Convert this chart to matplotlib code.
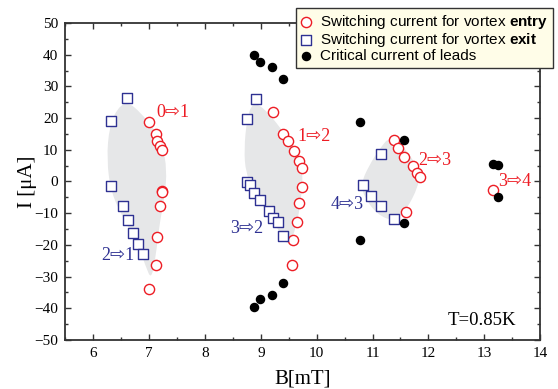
import matplotlib
matplotlib.use("Agg")
import matplotlib.pyplot as plt
import numpy as np
from matplotlib.path import Path
from matplotlib.patches import PathPatch
from matplotlib.ticker import MultipleLocator

# ---------------- data ----------------
# switching current for vortex entry (red circles)
entry_B = [7.00, 7.12, 7.15, 7.19, 7.23, 7.23, 7.24, 7.19, 7.14, 7.12, 7.00,
           9.21, 9.40, 9.49, 9.60, 9.68, 9.73, 9.73, 9.68, 9.65, 9.58, 9.56,
           11.38, 11.46, 11.57, 11.72, 11.80, 11.85, 11.60,
           13.15]
entry_I = [18.6, 14.9, 12.8, 11.2, 9.8, -3.1, -3.4, -7.7, -17.4, -26.5, -34.0,
           22.0, 15.1, 12.8, 9.6, 6.4, 4.3, -1.8, -6.8, -12.9, -18.4, -26.5,
           13.1, 10.4, 7.8, 4.8, 2.7, 1.4, -9.6,
           -2.7]

# switching current for vortex exit (blue squares)
exit_B = [6.60, 6.32, 6.32, 6.54, 6.62, 6.71, 6.80, 6.90,
          8.92, 8.76, 8.76, 8.80, 8.88, 8.98, 9.14, 9.21, 9.31, 9.39,
          11.15, 10.83, 10.97, 11.16, 11.38]
exit_I = [26.3, 19.1, -1.5, -7.8, -12.2, -16.2, -19.8, -22.9,
          25.9, 19.6, -0.2, -1.2, -3.6, -5.9, -9.4, -11.5, -12.8, -17.3,
          8.8, -1.2, -4.6, -7.8, -11.7]

# critical current of leads (black dots)
leads_B = [8.87, 8.99, 9.20, 9.39, 9.39, 9.20, 8.99, 8.87,
           10.77, 11.57, 11.57, 10.77, 13.16, 13.25, 13.25]
leads_I = [40.0, 37.6, 36.0, 32.3, -32.1, -35.8, -37.1, -39.7,
           18.8, 13.1, -13.1, -18.6, 5.6, 5.2, -5.0]

# transition labels
trans_text = ["0\u21e81", "2\u21e81", "1\u21e82", "3\u21e82", "2\u21e83", "4\u21e83", "3\u21e84"]
trans_B = [7.42, 6.44, 9.95, 8.74, 12.12, 10.54, 13.55]
trans_I = [21.7, -23.4, 14.1, -14.7, 6.7, -7.3, -0.1]
trans_kind = ["entry", "exit", "entry", "exit", "entry", "exit", "entry"]

# grey hysteresis regions (outline points)
region1_B = [6.62, 6.85, 7.09, 7.24, 7.32, 7.28, 7.18, 7.12, 7.04, 6.94, 6.79, 6.55, 6.32, 6.24, 6.29, 6.44]
region1_I = [25.1, 21.7, 16.5, 11.2, 3.8, -4.6, -14.1, -23.6, -31.0, -26.8, -19.4, -12.0, -3.6, 7.0, 17.5, 23.3]
region2_B = [8.85, 9.05, 9.35, 9.62, 9.76, 9.72, 9.64, 9.50, 9.38, 9.17, 8.88, 8.73, 8.70, 8.75]
region2_I = [24.9, 23.3, 17.0, 10.1, 2.8, -5.7, -14.1, -20.5, -17.3, -11.0, -4.1, 2.8, 10.1, 19.6]
region3_B = [11.32, 11.61, 11.85, 11.82, 11.61, 11.38, 11.08, 10.84, 10.80, 10.93, 11.14]
region3_I = [14.3, 10.1, 2.8, -1.5, -8.9, -12.6, -10.4, -4.6, -0.4, 4.8, 10.7]

RED = "#ed1c24"
BLUE = "#2e3192"
SERIF = ["Liberation Serif", "DejaVu Sans"]

plt.rcParams["font.family"] = SERIF
plt.rcParams["mathtext.fontset"] = "custom"
plt.rcParams["mathtext.rm"] = "Liberation Sans"
plt.rcParams["mathtext.bf"] = "Liberation Sans:bold"


def smooth_region(bs, cs):
    # closed quadratic bezier through midpoints of the outline points
    pts = np.column_stack([bs, cs])
    mids = (pts + np.roll(pts, -1, axis=0)) / 2
    verts = [mids[-1]]
    codes = [Path.MOVETO]
    for k in range(len(pts)):
        verts += [pts[k], mids[k]]
        codes += [Path.CURVE3, Path.CURVE3]
    return Path(verts, codes)


fig = plt.figure(figsize=(5.58, 3.89), dpi=100)
ax = fig.add_axes([0.117, 0.126, 0.851, 0.815])

for bs, cs in [(region1_B, region1_I), (region2_B, region2_I), (region3_B, region3_I)]:
    ax.add_patch(PathPatch(smooth_region(bs, cs), facecolor="#e6e7e8", edgecolor="none", zorder=1))

ax.scatter(entry_B, entry_I, s=54, facecolors="white", edgecolors=RED, linewidths=1.0,
           marker="o", zorder=3, label=r"Switching current for vortex $\bf{entry}$")
ax.scatter(exit_B, exit_I, s=46, facecolors="white", edgecolors=BLUE, linewidths=1.0,
           marker="s", zorder=3, label=r"Switching current for vortex $\bf{exit}$")
ax.scatter(leads_B, leads_I, s=34, c="black", marker="o", zorder=3,
           label="Critical current of leads")

for t, b, i, k in zip(trans_text, trans_B, trans_I, trans_kind):
    ax.text(b, i, t, color=RED if k == "entry" else BLUE, fontsize=13,
            ha="center", va="center", family=SERIF, zorder=4)

ax.text(12.96, -43.7, "T=0.85K", fontsize=13.5, ha="center", va="center")

ax.set_xlim(5.5, 14)
ax.set_ylim(-50, 50)
ax.xaxis.set_major_locator(MultipleLocator(1))
ax.xaxis.set_minor_locator(MultipleLocator(0.5))
ax.yaxis.set_major_locator(MultipleLocator(10))
ax.yaxis.set_minor_locator(MultipleLocator(5))
ax.tick_params(which="both", direction="in", top=True, right=True, labelsize=11,
               width=1.0, color="#333333")
ax.tick_params(which="major", length=4, pad=5)
ax.tick_params(which="minor", length=2.5)
for sp in ax.spines.values():
    sp.set_linewidth(1.3)
    sp.set_color("#333333")

ax.set_xlabel("B[mT]", fontsize=15, labelpad=7)
ax.set_ylabel("I [\u03bcA]", fontsize=15, labelpad=-2)

leg = ax.legend(loc="upper left", bbox_to_anchor=(0.530, 0.979), bbox_transform=fig.transFigure,
                prop={"family": "Liberation Sans", "size": 11}, frameon=True, fancybox=False,
                facecolor="#fffde8", edgecolor="#333333", framealpha=1,
                handlelength=0.8, handletextpad=0.5, labelspacing=0.02, borderpad=0.3,
                borderaxespad=0)
leg.get_frame().set_linewidth(1.0)
leg.set_zorder(5)

fig.savefig("out.png", dpi=100)
